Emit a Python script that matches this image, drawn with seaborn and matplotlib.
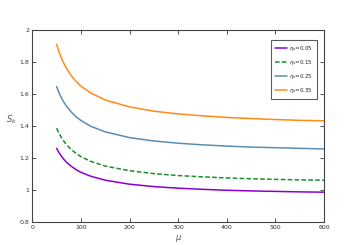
import numpy as np
import pandas as pd

import matplotlib as mpl
import matplotlib.pyplot as plt

import seaborn as sns

# values
MU = [50, 55, 60, 65, 70, 80, 90, 100, 120, 150, 200, 250, 300, 350, 400, 450,
      500, 550, 600]
S_005 = [1.260, 1.233, 1.210, 1.191, 1.174, 1.148, 1.127, 1.110, 1.086, 1.061,
         1.036, 1.021, 1.011, 1.004, 0.998, 0.994, 0.991, 0.988, 0.986]
S_015 = [1.386, 1.353, 1.327, 1.304, 1.284, 1.253, 1.228, 1.208, 1.179, 1.149,
         1.120, 1.102, 1.090, 1.082, 1.075, 1.070, 1.066, 1.063, 1.061]
S_025 = [1.646, 1.607, 1.575, 1.548, 1.525, 1.487, 1.457, 1.434, 1.398, 1.363,
         1.327, 1.306, 1.292, 1.282, 1.274, 1.268, 1.264, 1.260, 1.256]
S_035 = [1.910, 1.863, 1.823, 1.790, 1.761, 1.714, 1.678, 1.649, 1.606, 1.562,
         1.519, 1.492, 1.475, 1.463, 1.453, 1.446, 1.440, 1.435, 1.432]
LABELS = [r'$\eta_s$=0.05', r'$\eta_s$=0.15', r'$\eta_s$=0.25', r'$\eta_s$=0.35']
COLORS = ['#8a00d4', '#1a8f2a', '#5b8db0', '#ff8a14']
X_TICKS = [0, 100, 200, 300, 400, 500, 600]
Y_TICKS = [0.8, 1, 1.2, 1.4, 1.6, 1.8, 2]


def build_frame():
    frames = []
    for label, vals in zip(LABELS, [S_005, S_015, S_025, S_035]):
        frames.append(pd.DataFrame({'mu': MU, 'S': vals, 'case': label}))
    return pd.concat(frames, ignore_index=True)


def main():
    df = build_frame()
    sns.set_style('ticks')
    plt.rcParams['font.family'] = ['DejaVu Sans']

    fig = plt.figure(figsize=(3.53, 2.45), dpi=100)
    ax = fig.add_axes([0.0915, 0.094, 0.8265, 0.784])

    sns.lineplot(data=df, x='mu', y='S', hue='case', style='case',
                 palette=dict(zip(LABELS, COLORS)),
                 dashes={LABELS[0]: '', LABELS[1]: (3, 1.5),
                         LABELS[2]: '', LABELS[3]: ''},
                 linewidth=1.1, ax=ax)

    ax.set_xlim(0, 600)
    ax.set_ylim(0.8, 2)
    ax.set_xticks(X_TICKS)
    ax.set_yticks(Y_TICKS)
    ax.set_yticklabels(['0.8', '1', '1.2', '1.4', '1.6', '1.8', '2'])
    ax.tick_params(direction='in', length=3, width=0.6, labelsize=4.5,
                   top=True, right=True, pad=2, colors='#333333')
    for sp in ax.spines.values():
        sp.set_visible(True)
        sp.set_linewidth(0.8)
        sp.set_color('#444444')
    ax.set_xlabel(r'$\mu$', fontsize=6, labelpad=2, color='#555555')
    ax.set_ylabel(r'$S_k$', fontsize=6, labelpad=6, rotation=0, color='#555555')

    leg = ax.legend(loc='upper right', bbox_to_anchor=(0.985, 0.96),
                    fontsize=4, frameon=True, fancybox=False,
                    handlelength=2.2, handletextpad=0.3, labelspacing=0.9,
                    borderpad=0.7)
    leg.get_frame().set_edgecolor('#333333')
    leg.get_frame().set_linewidth(0.8)

    plt.savefig('out.png', dpi=100)


if __name__ == "__main__":
    main()
